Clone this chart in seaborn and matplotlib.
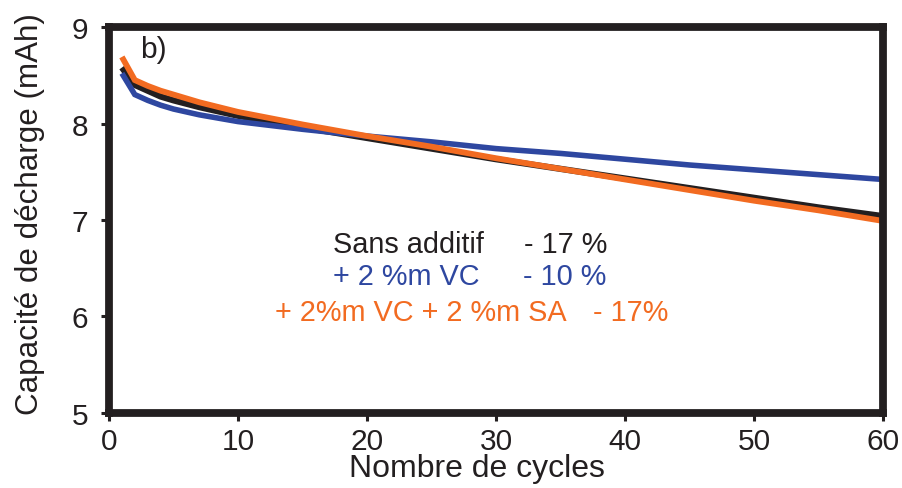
import matplotlib
matplotlib.use("Agg")
import matplotlib.pyplot as plt
import seaborn as sns
import pandas as pd

# Discharge capacity versus cycle number for three electrolyte formulations
cycles = [1, 2, 3, 4, 5, 7, 10, 15, 20, 25, 30, 35, 40, 45, 50, 55, 60]
sans_additif = [8.58, 8.40, 8.34, 8.28, 8.24, 8.17, 8.08, 7.96, 7.85, 7.74, 7.63, 7.53, 7.43, 7.33, 7.23, 7.13, 7.04]
vc_2 = [8.52, 8.30, 8.24, 8.19, 8.15, 8.09, 8.02, 7.94, 7.87, 7.81, 7.74, 7.69, 7.63, 7.57, 7.52, 7.47, 7.42]
vc_sa_2 = [8.69, 8.45, 8.39, 8.34, 8.30, 8.22, 8.12, 7.99, 7.87, 7.76, 7.64, 7.53, 7.42, 7.31, 7.20, 7.10, 6.99]

series_names = ["Sans additif", "+ 2 %m VC", "+ 2%m VC + 2 %m SA"]
series_losses = ["- 17 %", "- 10 %", "- 17%"]
colors = ["#231f20", "#2e47a0", "#f26b21"]

x_ticks = [0, 10, 20, 30, 40, 50, 60]
y_ticks = [5, 6, 7, 8, 9]

df = pd.concat([
    pd.DataFrame({"cycle": cycles, "cap": vals, "serie": name})
    for name, vals in zip(series_names, [sans_additif, vc_2, vc_sa_2])
])

sns.set_style("white")
plt.rcParams["font.family"] = ["Liberation Sans", "DejaVu Sans"]

fig = plt.figure(figsize=(9.03, 4.89), dpi=100)
ax = fig.add_axes([0.1207, 0.1534, 0.978 - 0.1207, 0.9427 - 0.1534])

widths = {"Sans additif": 4.5, "+ 2 %m VC": 4.0, "+ 2%m VC + 2 %m SA": 4.2}
for name, col in zip(series_names, colors):
    sns.lineplot(data=df[df["serie"] == name], x="cycle", y="cap", color=col,
                 linewidth=widths[name], ax=ax, legend=False,
                 solid_capstyle="butt", solid_joinstyle="miter")

ax.set_xlim(0, 60)
ax.set_ylim(5, 9)
ax.set_xticks(x_ticks)
ax.set_yticks(y_ticks)

for s in ax.spines.values():
    s.set_linewidth(5.6)
    s.set_color("#231f20")

ax.tick_params(axis="both", which="major", direction="out", length=6, width=2.2,
               color="#231f20", labelsize=21.5, labelcolor="#231f20",
               bottom=True, left=True, top=False, right=False)
ax.tick_params(axis="y", pad=9)
ax.tick_params(axis="x", pad=4)

xl = ax.set_xlabel("Nombre de cycles", fontsize=23, color="#231f20")
xl.set_va("center")
ax.xaxis.set_label_coords(0.475, -0.143)

yl = ax.set_ylabel("Capacité de décharge (mAh)", fontsize=22.6, color="#231f20")
yl.set_va("center")
ax.yaxis.set_label_coords(-0.102, 0.518)

ax.text(2.4, 8.77, "b)", fontsize=21.5, color="#231f20", va="center", ha="left")

name_x = [17.36, 17.36, 12.87]
loss_x = [32.2, 32.1, 37.5]
rows_y = [6.75, 6.42, 6.05]
for name, loss, col, nx, lx, yy in zip(series_names, series_losses, colors, name_x, loss_x, rows_y):
    ax.text(nx, yy, name, fontsize=20.8, color=col, va="center", ha="left")
    ax.text(lx, yy, loss, fontsize=20.8, color=col, va="center", ha="left")

fig.savefig("out.png", dpi=100)
